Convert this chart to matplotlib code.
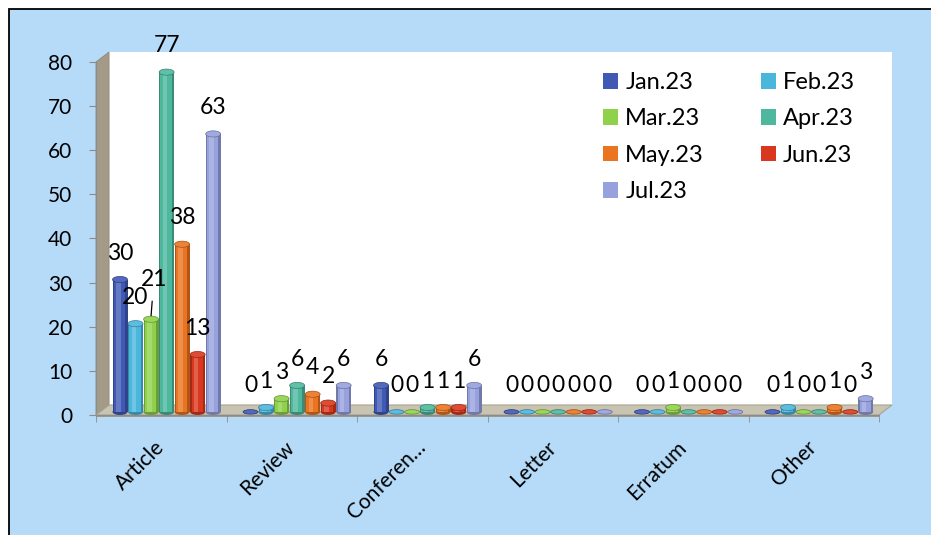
import matplotlib
matplotlib.use("Agg")
import matplotlib.pyplot as plt
import numpy as np
from matplotlib.patches import Rectangle, Polygon, Ellipse, Patch
import matplotlib.colors as mcolors

plt.rcParams['font.family'] = ['Lato', 'DejaVu Sans']

categories = ["Article", "Review", "Conferen\u2026", "Letter", "Erratum", "Other"]
series_names = ["Jan.23", "Feb.23", "Mar.23", "Apr.23", "May.23", "Jun.23", "Jul.23"]
jan = [30, 0, 6, 0, 0, 0]
feb = [20, 1, 0, 0, 0, 1]
mar = [21, 3, 0, 0, 1, 0]
apr = [77, 6, 1, 0, 0, 0]
may = [38, 4, 1, 0, 0, 1]
jun = [13, 2, 1, 0, 0, 0]
jul = [63, 6, 6, 0, 0, 3]
series_values = [jan, feb, mar, apr, may, jun, jul]
colors = ["#4059B5", "#4BB6DC", "#8FD14A", "#4DB89D", "#EA7420", "#D9381E", "#97A1DD"]
yticks = list(range(0, 81, 10))

W, H = 931, 535
fig = plt.figure(figsize=(W / 100, H / 100), dpi=100)
fig.patch.set_facecolor("white")
bg = Rectangle((9 / W, -0.1), 1.2, (H - 9) / H + 0.1, transform=fig.transFigure,
               facecolor="#B5DBF8", edgecolor="black", linewidth=1.3, zorder=-10)
fig.add_artist(bg)

ax = fig.add_axes([96 / W, (H - 415) / H, (879 - 96) / W, (415 - 62) / H])
ax.set_facecolor("none")
ax.set_xlim(-0.5, 5.5)
ax.set_ylim(0, 80)

# 3D walls
dx, dy = 0.1, 2.27
ax.add_patch(Rectangle((-0.5 + dx, dy), 6.0, 80, facecolor="white", edgecolor="none",
                       zorder=0.1, clip_on=False))
ax.add_patch(Polygon([(-0.5, 0), (-0.5, 80), (-0.5 + dx, 80 + dy), (-0.5 + dx, dy)],
                     closed=True, facecolor="#A39B88", edgecolor="#8F8876", lw=0.6,
                     zorder=0.2, clip_on=False))
ax.add_patch(Polygon([(-0.5, 0), (5.5, 0), (5.5 + dx, dy), (-0.5 + dx, dy)],
                     closed=True, facecolor="#C9C3B1", edgecolor="#A8A290", lw=0.8,
                     zorder=0.3, clip_on=False))
ax.add_patch(Polygon([(-0.5, 0), (5.5, 0), (5.5, -0.4), (-0.5, -0.4)],
                     closed=True, facecolor="#9F9988", edgecolor="none",
                     zorder=0.3, clip_on=False))

def shade(c, f):
    r, g, b = mcolors.to_rgb(c)
    if f < 0:
        return (r * (1 + f), g * (1 + f), b * (1 + f))
    return (r + (1 - r) * f, g + (1 - g) * f, b + (1 - b) * f)

base = 0.7
spacing = 0.119
bw = 0.115
xc = np.arange(len(categories))
for i, (vals, c) in enumerate(zip(series_values, colors)):
    x = xc + 0.041 + (i - 3) * spacing
    vals = np.array(vals, dtype=float)
    z = 2
    ax.bar(x, vals, width=bw, bottom=base, color=shade(c, -0.25), zorder=z, linewidth=0)
    ax.bar(x - 0.004, vals, width=bw * 0.75, bottom=base, color=c, zorder=z + 0.01, linewidth=0)
    ax.bar(x - 0.012, vals, width=bw * 0.3, bottom=base, color=shade(c, 0.2), zorder=z + 0.02, linewidth=0)
    for xi, v in zip(x, vals):
        eh = 1.4 if v > 0 else 1.0
        ax.add_patch(Ellipse((xi, base), bw, eh, facecolor=shade(c, -0.25), edgecolor="none",
                             zorder=z - 0.01))
        ax.add_patch(Ellipse((xi, base + v), bw, eh, facecolor=shade(c, 0.1),
                             edgecolor=shade(c, -0.3), lw=0.5, zorder=z + 0.03))
        if i == 2 and v == 21:
            ax.annotate(f"{int(v)}", (xi, base + v + 0.8), xytext=(2, 26), textcoords="offset points",
                        ha="center", va="center", fontsize=16.5, zorder=5,
                        arrowprops=dict(arrowstyle="-", color="black", lw=0.9,
                                        shrinkA=6, shrinkB=0))
        else:
            ax.annotate(f"{int(v)}", (xi, base + v), xytext=(0, 19), textcoords="offset points",
                        ha="center", va="center", fontsize=16.5, zorder=5)

# axes styling
for s in ["top", "right"]:
    ax.spines[s].set_visible(False)
ax.spines["left"].set_color("#8C8C8C")
ax.spines["bottom"].set_color("#8C8C8C")
ax.spines["left"].set_zorder(0.25)
ax.set_yticks(yticks)
ax.set_yticklabels([str(t) for t in yticks])
ax.tick_params(axis="y", length=5, color="#8C8C8C", pad=12, labelsize=15)
ax.set_xticks(xc)
ax.set_xticklabels(categories)
ax.set_xticks(np.arange(-0.5, 6, 1), minor=True)
ax.tick_params(axis="x", which="major", length=0, pad=21, labelsize=15)
ax.tick_params(axis="x", which="minor", length=5, color="#8C8C8C")
for lab in ax.get_xticklabels():
    lab.set_rotation(45)
    lab.set_ha("right")
    lab.set_va("center")
    lab.set_rotation_mode("anchor")

# legend
handles = [Patch(facecolor=c, edgecolor="none") for c in colors]
order = [0, 2, 4, 6, 1, 3, 5]
fig.legend([handles[k] for k in order], [series_names[k] for k in order],
           loc="upper left", bbox_to_anchor=(603 / W, (H - 72) / H), ncol=2,
           frameon=False, fontsize=17, handlelength=0.64, handleheight=0.64,
           handletextpad=0.3, columnspacing=2.4, labelspacing=0.65,
           borderpad=0, borderaxespad=0)

fig.savefig("out.png", dpi=100)
